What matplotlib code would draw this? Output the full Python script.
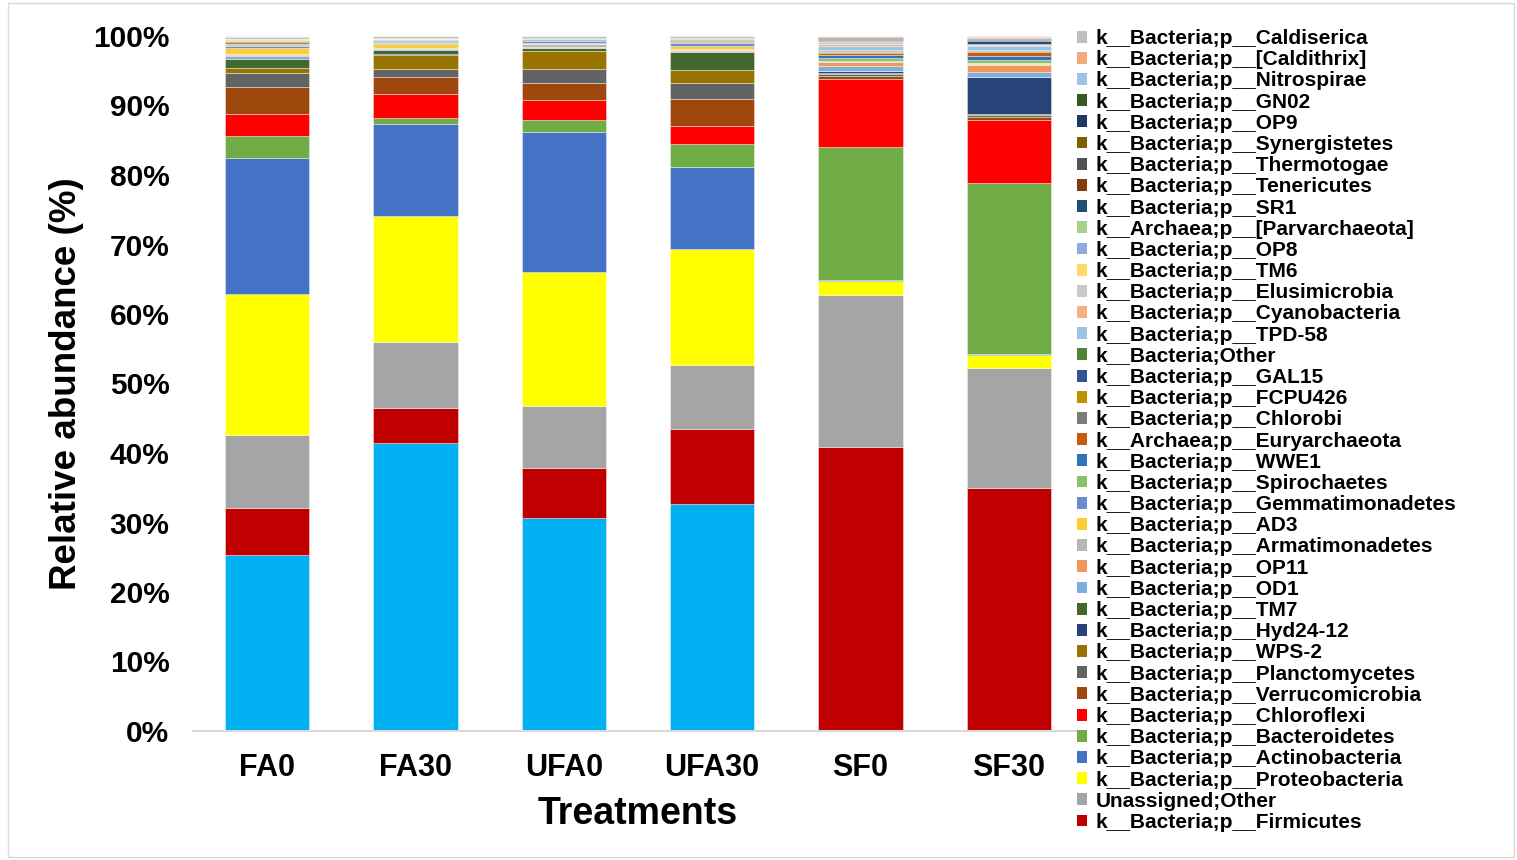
import numpy as np
import matplotlib
matplotlib.use("Agg")
import matplotlib.pyplot as plt
from matplotlib.patches import Rectangle, Patch

plt.rcParams['font.family'] = ['Liberation Sans', 'DejaVu Sans']
plt.rcParams['font.weight'] = 'bold'

treatments = ["FA0", "FA30", "UFA0", "UFA30", "SF0", "SF30"]

# Relative abundance (%) of each taxon, bottom of the stack first
unlabeled_base = [25.3, 41.4, 30.8, 32.7, 0.0, 0.0]
firmicutes = [6.8, 5.0, 7.2, 10.8, 40.9, 35.0]
unassigned_other = [10.6, 9.6, 8.9, 9.2, 21.9, 17.4]
proteobacteria = [20.3, 18.1, 19.3, 16.7, 2.0, 1.9]
actinobacteria = [19.6, 13.2, 20.3, 11.8, 0.2, 0.05]
bacteroidetes = [3.2, 0.8, 1.6, 3.3, 19.1, 24.7]
chloroflexi = [3.2, 3.5, 3.0, 2.6, 9.8, 9.1]
verrucomicrobia = [3.8, 2.5, 2.4, 3.9, 0.5, 0.5]
planctomycetes = [2.0, 1.05, 2.0, 2.3, 0.3, 0.3]
wps2 = [0.7, 2.1, 2.6, 1.9, 0.05, 0.03]
hyd24_12 = [0.1, 0.05, 0.05, 0.05, 0.3, 5.4]
tm7 = [1.3, 0.6, 0.4, 2.5, 0.05, 0.03]
od1 = [0.4, 0.1, 0.05, 0.2, 0.72, 0.62]
op11 = [0.1, 0.05, 0.05, 0.1, 0.62, 1.1]
armatimonadetes = [0.2, 0.2, 0.45, 0.2, 0.05, 0.12]
ad3 = [0.8, 0.6, 0.2, 0.4, 0.05, 0.1]
gemmatimonadetes = [0.4, 0.15, 0.2, 0.5, 0.05, 0.03]
spirochaetes = [0.05, 0.03, 0.03, 0.1, 0.43, 0.5]
wwe1 = [0.05, 0.03, 0.03, 0.05, 0.34, 0.5]
euryarchaeota = [0.05, 0.03, 0.03, 0.1, 0.38, 0.55]
chlorobi = [0.1, 0.1, 0.1, 0.1, 0.15, 0.2]
fcpu426 = [0.25, 0.1, 0.05, 0.05, 0.05, 0.03]
gal15 = [0.15, 0.1, 0.05, 0.05, 0.05, 0.03]
bacteria_other = [0.05, 0.03, 0.03, 0.05, 0.1, 0.15]
tpd58 = [0.1, 0.05, 0.05, 0.1, 0.65, 0.55]
cyanobacteria = [0.1, 0.05, 0.05, 0.05, 0.24, 0.08]
elusimicrobia = [0.1, 0.05, 0.05, 0.05, 0.24, 0.05]
tm6 = [0.05, 0.15, 0.1, 0.05, 0.05, 0.03]
op8 = [0.03, 0.02, 0.02, 0.02, 0.1, 0.03]
parvarchaeota = [0.03, 0.02, 0.02, 0.02, 0.05, 0.03]
sr1 = [0.03, 0.02, 0.02, 0.02, 0.05, 0.45]
tenericutes = [0.03, 0.02, 0.02, 0.02, 0.12, 0.2]
thermotogae = [0.03, 0.02, 0.02, 0.02, 0.08, 0.08]
synergistetes = [0.03, 0.02, 0.02, 0.02, 0.08, 0.05]
op9 = [0.03, 0.02, 0.02, 0.02, 0.1, 0.1]
gn02 = [0.03, 0.02, 0.02, 0.02, 0.1, 0.05]
nitrospirae = [0.03, 0.02, 0.02, 0.02, 0.06, 0.05]
caldithrix = [0.03, 0.02, 0.02, 0.02, 0.06, 0.15]
caldiserica = [0.03, 0.02, 0.02, 0.02, 0.06, 0.05]

# (label, values, colour); label None = not listed in the legend
series = [
    (None, unlabeled_base, "#00B0F0"),
    ("k__Bacteria;p__Firmicutes", firmicutes, "#C00000"),
    ("Unassigned;Other", unassigned_other, "#A5A5A5"),
    ("k__Bacteria;p__Proteobacteria", proteobacteria, "#FFFF00"),
    ("k__Bacteria;p__Actinobacteria", actinobacteria, "#4472C4"),
    ("k__Bacteria;p__Bacteroidetes", bacteroidetes, "#70AD47"),
    ("k__Bacteria;p__Chloroflexi", chloroflexi, "#FF0000"),
    ("k__Bacteria;p__Verrucomicrobia", verrucomicrobia, "#9E480E"),
    ("k__Bacteria;p__Planctomycetes", planctomycetes, "#636363"),
    ("k__Bacteria;p__WPS-2", wps2, "#997300"),
    ("k__Bacteria;p__Hyd24-12", hyd24_12, "#264478"),
    ("k__Bacteria;p__TM7", tm7, "#43682B"),
    ("k__Bacteria;p__OD1", od1, "#7CAFDD"),
    ("k__Bacteria;p__OP11", op11, "#F1975A"),
    ("k__Bacteria;p__Armatimonadetes", armatimonadetes, "#B7B7B7"),
    ("k__Bacteria;p__AD3", ad3, "#FFCD33"),
    ("k__Bacteria;p__Gemmatimonadetes", gemmatimonadetes, "#698ED0"),
    ("k__Bacteria;p__Spirochaetes", spirochaetes, "#8CC168"),
    ("k__Bacteria;p__WWE1", wwe1, "#2E75B6"),
    ("k__Archaea;p__Euryarchaeota", euryarchaeota, "#C55A11"),
    ("k__Bacteria;p__Chlorobi", chlorobi, "#7B7B7B"),
    ("k__Bacteria;p__FCPU426", fcpu426, "#BF9000"),
    ("k__Bacteria;p__GAL15", gal15, "#2F5597"),
    ("k__Bacteria;Other", bacteria_other, "#548235"),
    ("k__Bacteria;p__TPD-58", tpd58, "#9DC3E6"),
    ("k__Bacteria;p__Cyanobacteria", cyanobacteria, "#F4B183"),
    ("k__Bacteria;p__Elusimicrobia", elusimicrobia, "#C9C9C9"),
    ("k__Bacteria;p__TM6", tm6, "#FFD966"),
    ("k__Bacteria;p__OP8", op8, "#8FAADC"),
    ("k__Archaea;p__[Parvarchaeota]", parvarchaeota, "#A9D18E"),
    ("k__Bacteria;p__SR1", sr1, "#1F4E79"),
    ("k__Bacteria;p__Tenericutes", tenericutes, "#843C0C"),
    ("k__Bacteria;p__Thermotogae", thermotogae, "#525252"),
    ("k__Bacteria;p__Synergistetes", synergistetes, "#7F6000"),
    ("k__Bacteria;p__OP9", op9, "#203864"),
    ("k__Bacteria;p__GN02", gn02, "#385723"),
    ("k__Bacteria;p__Nitrospirae", nitrospirae, "#9DC3E6"),
    ("k__Bacteria;p__[Caldithrix]", caldithrix, "#F4A97A"),
    ("k__Bacteria;p__Caldiserica", caldiserica, "#BFBFBF"),
]

W, H = 1517, 860
fig = plt.figure(figsize=(W / 100, H / 100), dpi=100)
fig.patches.append(Rectangle((8 / W, 3 / H), 1506 / W, 854 / H, transform=fig.transFigure,
                             fill=False, edgecolor="#D9D9D9", linewidth=1.0))

ax = fig.add_axes([193 / W, (H - 731) / H, 890 / W, 695 / H])

data = np.array([s[1] for s in series], dtype=float)
pct = data / data.sum(axis=0) * 100.0  # 100% stacked columns
x = np.arange(len(treatments))
bottom = np.zeros(len(treatments))
handles = []
for (label, _, color), vals in zip(series, pct):
    ax.bar(x, vals, width=0.57, bottom=bottom, color=color,
           edgecolor=(1, 1, 1, 0.45), linewidth=0.6)
    bottom += vals
    if label is not None:
        handles.append(Patch(facecolor=color, edgecolor="none", label=label))

ax.set_xlim(-0.5, len(treatments) - 0.5)
ax.set_ylim(0, 100)
ax.set_yticks(np.arange(0, 101, 10))
ax.set_yticklabels([f"{v}%" for v in range(0, 101, 10)], fontsize=21.5, fontweight='bold')
ax.set_xticks(x)
ax.set_xticklabels(treatments, fontsize=22, fontweight='bold')
ax.tick_params(axis='y', length=0, pad=17)
ax.tick_params(axis='x', length=0, pad=16)
for side in ("left", "right", "top"):
    ax.spines[side].set_visible(False)
ax.spines["bottom"].set_color("#D9D9D9")
ax.spines["bottom"].set_linewidth(1.5)

ax.set_xlabel("Treatments", fontsize=27, fontweight='bold')
ax.xaxis.set_label_coords(0.5, -0.093)
ax.set_ylabel("Relative abundance (%)", fontsize=26.5, fontweight='bold')
ax.yaxis.set_label_coords(-0.122, 0.5)

fig.legend(handles=handles[::-1], loc="upper left", bbox_to_anchor=(1077 / W, 1 - 29 / H),
           frameon=False, labelspacing=0.105, handlelength=0.5,
           handleheight=0.5, handletextpad=0.4, borderpad=0, borderaxespad=0,
           prop={'weight': 'bold', 'size': 15})

fig.savefig("out.png", dpi=100)
